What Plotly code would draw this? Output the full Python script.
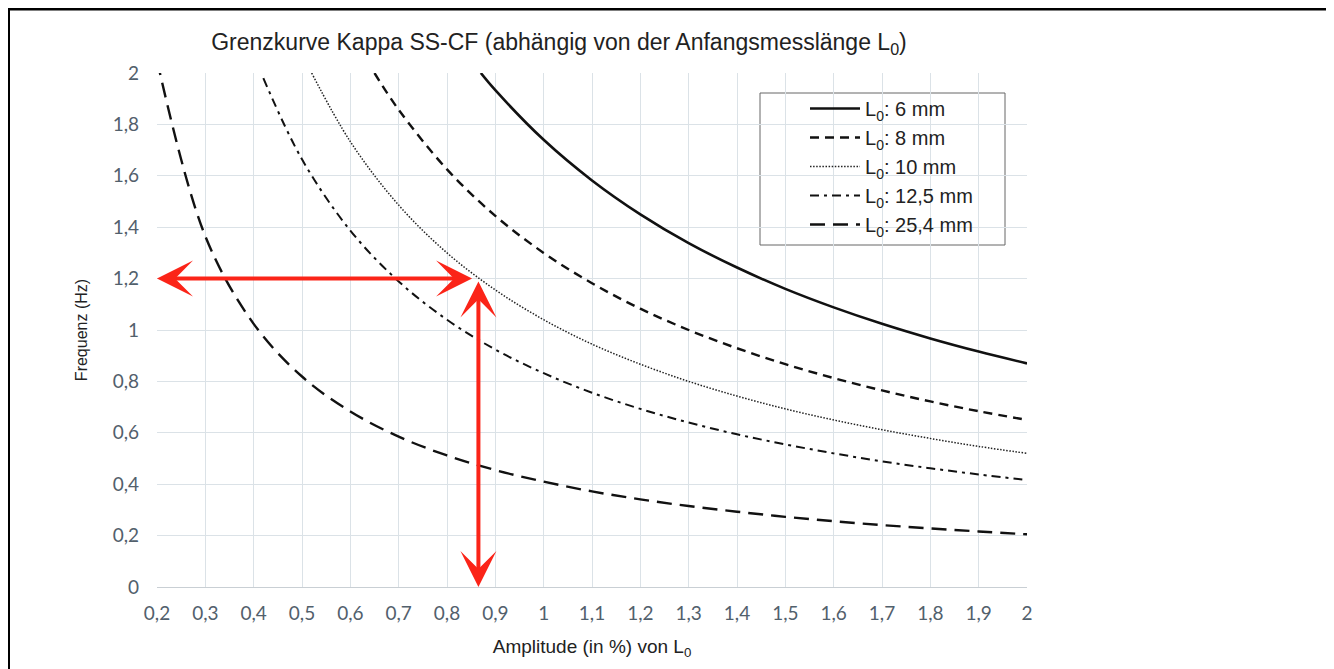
import plotly.graph_objects as go

# ---- data ----
amp_6 = [0.87, 0.9, 1.0, 1.1, 1.2, 1.3, 1.4, 1.5, 1.6, 1.7, 1.8, 1.9, 2.0]
freq_6 = [2.0, 1.933, 1.740, 1.582, 1.450, 1.338, 1.243, 1.160, 1.088, 1.024, 0.967, 0.916, 0.870]

amp_8 = [0.65, 0.7, 0.8, 0.9, 1.0, 1.1, 1.2, 1.3, 1.4, 1.5, 1.6, 1.7, 1.8, 1.9, 2.0]
freq_8 = [2.0, 1.857, 1.625, 1.444, 1.300, 1.182, 1.083, 1.000, 0.929, 0.867, 0.813, 0.765, 0.722, 0.684, 0.650]

amp_10 = [0.52, 0.6, 0.7, 0.8, 0.9, 1.0, 1.1, 1.2, 1.3, 1.4, 1.5, 1.6, 1.7, 1.8, 1.9, 2.0]
freq_10 = [2.0, 1.733, 1.486, 1.300, 1.156, 1.040, 0.945, 0.867, 0.800, 0.743, 0.693, 0.650, 0.612, 0.578, 0.547, 0.520]

amp_125 = [0.42, 0.5, 0.6, 0.7, 0.8, 0.9, 1.0, 1.1, 1.2, 1.3, 1.4, 1.5, 1.6, 1.7, 1.8, 1.9, 2.0]
freq_125 = [1.98, 1.664, 1.387, 1.189, 1.040, 0.924, 0.832, 0.756, 0.693, 0.640, 0.594, 0.555, 0.520, 0.489, 0.462, 0.438, 0.416]

amp_254 = [0.2, 0.3, 0.4, 0.5, 0.6, 0.7, 0.8, 0.9, 1.0, 1.1, 1.2, 1.3, 1.4, 1.5, 1.6, 1.7, 1.8, 1.9, 2.0]
freq_254 = [2.05, 1.365, 1.024, 0.819, 0.683, 0.585, 0.512, 0.455, 0.410, 0.372, 0.341, 0.315, 0.293, 0.273, 0.256, 0.241, 0.228, 0.216, 0.205]

series_names = ["L<sub>0</sub>: 6 mm", "L<sub>0</sub>: 8 mm", "L<sub>0</sub>: 10 mm",
                "L<sub>0</sub>: 12,5 mm", "L<sub>0</sub>: 25,4 mm"]

# example reading (red arrows)
example_amp = 0.865
example_freq = 1.2
axis_min_amp = 0.2
axis_min_freq = 0.0

x_ticks = [0.2, 0.3, 0.4, 0.5, 0.6, 0.7, 0.8, 0.9, 1.0, 1.1, 1.2, 1.3, 1.4, 1.5, 1.6, 1.7, 1.8, 1.9, 2.0]
y_ticks = [0, 0.2, 0.4, 0.6, 0.8, 1.0, 1.2, 1.4, 1.6, 1.8, 2.0]

# ---- styles ----
styles = [
    dict(color="#111111", width=2.6, dash="solid"),
    dict(color="#111111", width=2.4, dash="9px,6px"),
    dict(color="#222222", width=1.5, dash="1.5px,1.6px"),
    dict(color="#111111", width=2.0, dash="9px,5px,3px,5px"),
    dict(color="#111111", width=2.4, dash="15px,8px"),
]
xs = [amp_6, amp_8, amp_10, amp_125, amp_254]
ys = [freq_6, freq_8, freq_10, freq_125, freq_254]

fig = go.Figure()
for i, (x, y, name, st) in enumerate(zip(xs, ys, series_names, styles)):
    fig.add_trace(go.Scatter(
        x=x, y=y, mode="lines", name=name, legendgroup=str(i),
        line=dict(color=st["color"], width=st["width"], dash=st["dash"], shape="spline", smoothing=1.0),
        hoverinfo="skip",
    ))

# page is offset by the 8px body margin
OFF = 8
W, H = 1326, 661
L, T = 157 - OFF, 73 - OFF
pw, ph = 870, 514
R = W - L - pw
B = H - T - ph


def px(xp):
    return (xp - OFF - L) / pw


def py(yp):
    return (H - B - (yp - OFF)) / ph


tick_font = dict(family="Lato, Open Sans, sans-serif", size=19, color="#52606c")
grid_col = "#dbe2e7"

fig.update_layout(
    width=W, height=H,
    margin=dict(l=L, r=R, t=T, b=B),
    paper_bgcolor="white", plot_bgcolor="white",
    separators=", ",
    showlegend=True,
    title=dict(
        text="Grenzkurve Kappa SS-CF (abhängig von der Anfangsmesslänge L<sub>0</sub>)",
        xref="paper", x=px(559), xanchor="center",
        yref="container", y=1 - (42 - OFF) / H, yanchor="middle",
        font=dict(family="Liberation Sans, Arial, sans-serif", size=23, color="#222222"),
    ),
    legend=dict(
        x=px(805), xanchor="left", y=py(89), yanchor="top",
        bgcolor="rgba(0,0,0,0)", borderwidth=0, itemwidth=50,
        font=dict(family="Liberation Sans, Arial, sans-serif", size=20, color="#222222"),
        traceorder="grouped", tracegroupgap=0,
    ),
    xaxis=dict(
        range=[0.2, 2.0], tickvals=x_ticks, showgrid=True, gridcolor=grid_col, gridwidth=1,
        zeroline=False, showline=True, linecolor="#c9cfd4", linewidth=1,
        ticks="", ticklabelstandoff=9, tickfont=tick_font,
        title=dict(text="Amplitude (in %) von L<sub>0</sub>", standoff=16,
                   font=dict(family="Liberation Sans, Arial, sans-serif", size=19, color="#222222")),
    ),
    yaxis=dict(
        range=[0, 2.0], tickvals=y_ticks, showgrid=True, gridcolor=grid_col, gridwidth=1,
        zeroline=False, showline=False, ticks="", ticklabelstandoff=17, tickfont=tick_font,
        title=dict(text="Frequenz (Hz)", standoff=21,
                   font=dict(family="Liberation Sans, Arial, sans-serif", size=16, color="#222222")),
    ),
    shapes=[
        # legend box
        dict(type="rect", xref="paper", yref="paper", x0=px(760), x1=px(1005), y0=py(245), y1=py(93),
             line=dict(color="#666666", width=1), fillcolor="white", layer="below"),
        # outer frame
        dict(type="line", xref="paper", yref="paper", x0=px(8), x1=px(1334), y0=py(9), y1=py(9),
             line=dict(color="#000000", width=3)),
        dict(type="line", xref="paper", yref="paper", x0=px(8.5), x1=px(8.5), y0=py(8), y1=py(669),
             line=dict(color="#000000", width=3)),
        dict(type="line", xref="paper", yref="paper", x0=px(1331), x1=px(1331), y0=py(8), y1=py(669),
             line=dict(color="#a0a0a0", width=1.5)),
    ],
    annotations=[
        dict(x=axis_min_amp, y=example_freq, ax=example_amp - 0.01, ay=example_freq,
             xref="x", yref="y", axref="x", ayref="y", text="", showarrow=True,
             arrowhead=3, startarrowhead=3, arrowside="end+start", arrowwidth=4,
             arrowsize=1.5, startarrowsize=1.5, arrowcolor="#fb2418"),
        dict(x=example_amp, y=axis_min_freq, ax=example_amp, ay=example_freq - 0.005,
             xref="x", yref="y", axref="x", ayref="y", text="", showarrow=True,
             arrowhead=3, startarrowhead=3, arrowside="end+start", arrowwidth=4,
             arrowsize=1.5, startarrowsize=1.5, arrowcolor="#fb2418"),
    ],
)

fig.write_html("out.html")
